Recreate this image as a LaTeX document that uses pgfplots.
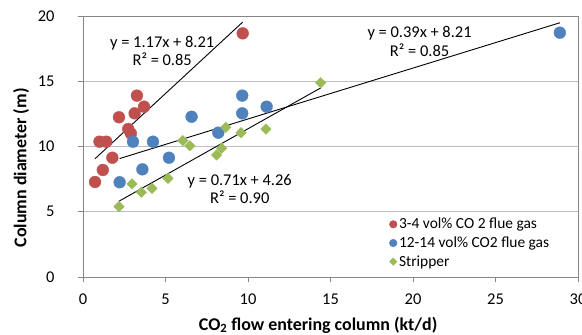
\documentclass[border=0pt]{standalone}
\usepackage{fontspec}
\setmainfont{Carlito}
\usepackage{pgfplots}
\pgfplotsset{compat=1.18}
\definecolor{exred}{HTML}{C0504D}
\definecolor{exblue}{HTML}{4F81BD}
\definecolor{exgreen}{HTML}{9BBB59}
\definecolor{gridgray}{RGB}{190,190,190}
\definecolor{axgray}{RGB}{134,134,134}
\begin{document}
\begin{tikzpicture}
\path[use as bounding box] (-83bp,-58bp) rectangle (499bp,277bp);
\begin{axis}[
  scale only axis,
  width=495bp, height=261bp,
  xmin=0, xmax=30, ymin=0, ymax=20,
  xtick={0,5,...,30}, ytick={0,5,...,20},
  ymajorgrids, major grid style={gridgray, line width=0.8bp},
  axis line style={axgray, line width=0.8bp},
  tick style={axgray, line width=0.8bp},
  tick align=outside, major tick length=5bp,
  xtick pos=bottom, ytick pos=left,
  /pgf/number format/assume math mode=true,
  ticklabel style={font=\fontsize{16.5}{19}\selectfont},
  yticklabel style={xshift=-20bp},
  xticklabel style={yshift=-8bp},
  xlabel={\textbf{CO\textsubscript{2} flow entering column (kt/d)}},
  xlabel style={font=\fontsize{18}{21}\selectfont, at={(axis description cs:0.475,0)}, anchor=base, yshift=-53bp},
  ylabel={\textbf{Column diameter (m)}},
  ylabel style={font=\fontsize{18}{21}\selectfont, at={(axis description cs:-0.125,0.418)}, anchor=center},
  legend style={at={(axis cs:18.5,4.75)}, anchor=north west, draw=none, fill=white,
    font=\fontsize{15.5}{18}\selectfont, row sep=2.5bp, inner sep=1bp,
    legend cell align=left},
]
% Red: 3-4 vol% CO2 flue gas
\addplot[only marks, mark=*, mark size=5.9bp, color=exred, legend image post style={mark size=3.8bp}] coordinates {
  (0.73,7.28) (1.2,8.2) (1.0,10.37) (1.41,10.37) (1.78,9.14) (2.18,12.24)
  (2.74,11.34) (2.9,11.0) (3.13,12.54) (3.27,13.9) (3.7,13.05) (9.68,18.67)
};
\addlegendentry{3-4 vol\% CO 2 flue gas}
% Blue: 12-14 vol% CO2 flue gas
\addplot[only marks, mark=*, mark size=5.9bp, color=exblue, legend image post style={mark size=3.8bp}] coordinates {
  (2.22,7.26) (3.6,8.25) (3.03,10.37) (4.24,10.37) (5.21,9.14) (6.58,12.28)
  (8.2,11.06) (9.65,13.9) (9.65,12.54) (11.13,13.05) (28.9,18.72)
};
\addlegendentry{12-14 vol\% CO2 flue gas}
% Green: Stripper
\addplot[only marks, mark=square*, mark size=3.7bp, mark options={rotate=45}, color=exgreen, legend image post style={mark size=2.6bp}] coordinates {
  (2.18,5.39) (2.97,7.13) (3.54,6.49) (4.18,6.79) (5.15,7.56) (6.04,10.45)
  (6.48,10.06) (8.1,9.35) (8.4,9.86) (8.65,11.47) (9.58,11.06) (11.09,11.34)
  (14.4,14.89)
};
\addlegendentry{Stripper}
% Trendlines
\addplot[black, line width=0.9bp, forget plot] coordinates {(0.73,9.064) (9.68,19.536)};
\addplot[black, line width=0.9bp, forget plot] coordinates {(2.22,9.076) (28.9,19.481)};
\addplot[black, line width=0.9bp, forget plot] coordinates {(2.18,5.808) (14.4,14.484)};
% Trendline labels
\node[align=center, font=\fontsize{16.5}{19}\selectfont] at (axis cs:4.8,17.32) {y = 1.17x + 8.21\\R² = 0.85};
\node[align=center, font=\fontsize{16.5}{19}\selectfont] at (axis cs:20.4,18.05) {y = 0.39x + 8.21\\R² = 0.85};
\node[align=center, font=\fontsize{16.5}{19}\selectfont] at (axis cs:9.5,6.74) {y = 0.71x + 4.26\\R² = 0.90};
\end{axis}
\end{tikzpicture}
\end{document}
